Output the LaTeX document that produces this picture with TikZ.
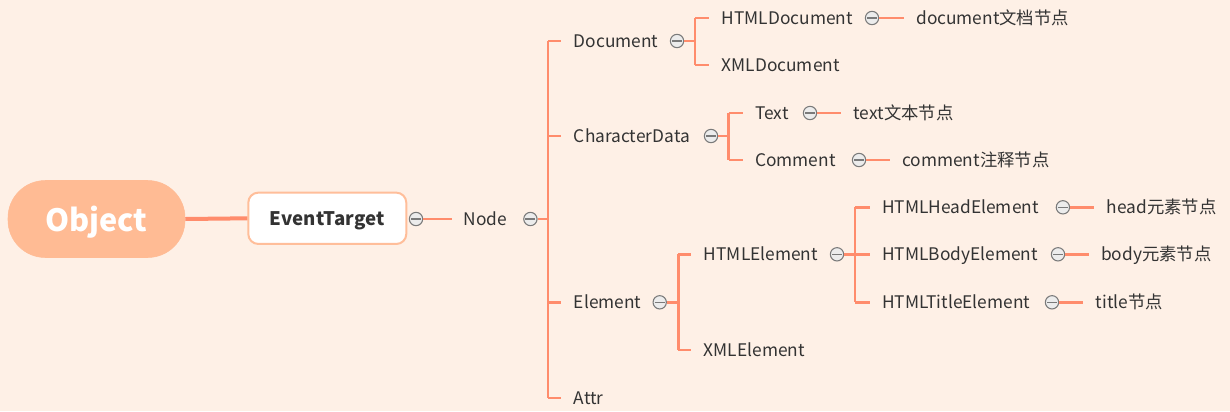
\documentclass[tikz,border=0pt]{standalone}
\usepackage{fontspec}
\setmainfont{Noto Sans CJK SC}
\usetikzlibrary{calc}
\definecolor{bg}{HTML}{FEF0E6}
\definecolor{objfill}{HTML}{FFBB94}
\definecolor{etborder}{HTML}{FFBE9A}
\definecolor{conn}{HTML}{FF8C6C}
\definecolor{txt}{HTML}{333333}
\definecolor{cgray}{HTML}{7A7A7A}
\begin{document}
\begin{tikzpicture}[x=0.75pt,y=-0.75pt,
  lbl/.style={anchor=west,inner sep=0pt,text=txt,font=\fontsize{13pt}{15pt}\selectfont,text height=0.94em,text depth=0pt},
  coll/.style={circle,draw=cgray,line width=0.8pt,fill=white!85!gray,inner sep=0pt,minimum size=10pt,
    path picture={\draw[cgray,line width=0.9pt] ($(path picture bounding box.center)+(-5,0)$) -- ($(path picture bounding box.center)+(5,0)$);}},
  link/.style={draw=conn,line width=2.2pt},
]
\useasboundingbox[fill=bg] (0,0) rectangle (1230,411);

% root nodes
\node[fill=objfill,draw=objfill,rounded corners=28pt,minimum width=132.75pt,minimum height=57.75pt,inner sep=0pt,
      text=white,font=\bfseries\fontsize{23pt}{26pt}\selectfont,text depth=0pt] (obj) at (96.5,219) {Object};
\node[fill=white,draw=etborder,line width=1.5pt,rounded corners=7.5pt,minimum width=118.5pt,minimum height=38.5pt,inner sep=0pt,
      text=txt,font=\bfseries\fontsize{14pt}{16pt}\selectfont,text depth=0pt] (et) at (327.3,218.3) {EventTarget};
\draw[link,line width=3pt] (obj.east) -- (et.west);

\node[coll] (cet) at (416,219) {};
\node[lbl] (node) at (463.6,219) {Node};
\node[coll] (cnode) at (530.4,219) {};
\draw[link] (cet.east) -- ($(node.west)+(-12,0)$);

% level: children of Node
\coordinate (jn) at (548,219);
\node[lbl] (doc) at (573.7,41) {Document};
\node[lbl] (cd) at (573.7,136) {CharacterData};
\node[lbl] (el) at (573.7,302.3) {Element};
\node[lbl] (attr) at (573.7,398) {Attr};
\draw[link] (cnode.east) -- (jn);
\draw[link] (jn |- doc.west) -- (jn |- attr.west);
\foreach \c in {doc,cd,el,attr} \draw[link] (jn |- \c.west) -- ($(\c.west)+(-12.5,0)$);

% Document
\node[coll] (cdoc) at (677,41) {};
\coordinate (jdoc) at (695,41);
\node[lbl] (hd) at (721.5,18) {HTMLDocument};
\node[lbl] (xd) at (721.5,65) {XMLDocument};
\draw[link] (cdoc.east) -- (jdoc);
\draw[link] (jdoc |- hd.west) -- (jdoc |- xd.west);
\foreach \c in {hd,xd} \draw[link] (jdoc |- \c.west) -- ($(\c.west)+(-12.5,0)$);
\node[coll] (chd) at (872,18) {};
\node[lbl] (hdt) at (916,18) {document文档节点};
\draw[link] (chd.east) -- ($(hdt.west)+(-12.5,0)$);

% CharacterData
\node[coll] (ccd) at (711,136) {};
\coordinate (jcd) at (728.7,136);
\node[lbl] (tx) at (755,113) {Text};
\node[lbl] (cm) at (755,160) {Comment};
\draw[link] (ccd.east) -- (jcd);
\draw[link] (jcd |- tx.west) -- (jcd |- cm.west);
\foreach \c in {tx,cm} \draw[link] (jcd |- \c.west) -- ($(\c.west)+(-12.5,0)$);
\node[coll] (ctx) at (810,113) {};
\node[lbl] (txt2) at (853.4,113) {text文本节点};
\draw[link] (ctx.east) -- ($(txt2.west)+(-12.5,0)$);
\node[coll] (ccm) at (859,160) {};
\node[lbl] (cmt) at (902,160) {comment注释节点};
\draw[link] (ccm.east) -- ($(cmt.west)+(-12.5,0)$);

% Element
\node[coll] (cel) at (659.7,302.3) {};
\coordinate (jel) at (678.2,302.3);
\node[lbl] (he) at (703.7,254.3) {HTMLElement};
\node[lbl] (xe) at (703.7,350) {XMLElement};
\draw[link] (cel.east) -- (jel);
\draw[link] (jel |- he.west) -- (jel |- xe.west);
\foreach \c in {he,xe} \draw[link] (jel |- \c.west) -- ($(\c.west)+(-12.5,0)$);

% HTMLElement
\node[coll] (che) at (837,254.3) {};
\coordinate (jhe) at (855,254.3);
\node[lbl] (hh) at (882,207.3) {HTMLHeadElement};
\node[lbl] (hb) at (882,254.3) {HTMLBodyElement};
\node[lbl] (ht) at (882,302.3) {HTMLTitleElement};
\draw[link] (che.east) -- (jhe);
\draw[link] (jhe |- hh.west) -- (jhe |- ht.west);
\foreach \c in {hh,hb,ht} \draw[link] (jhe |- \c.west) -- ($(\c.west)+(-12.5,0)$);

\node[coll] (chh) at (1062.9,207.3) {};
\node[lbl] (hht) at (1106.5,207.3) {head元素节点};
\draw[link] (chh.east) -- ($(hht.west)+(-12.5,0)$);
\node[coll] (chb) at (1058,254.3) {};
\node[lbl] (hbt) at (1101,254.3) {body元素节点};
\draw[link] (chb.east) -- ($(hbt.west)+(-12.5,0)$);
\node[coll] (cht) at (1052,302.3) {};
\node[lbl] (htt) at (1095.5,302.3) {title节点};
\draw[link] (cht.east) -- ($(htt.west)+(-12.5,0)$);
\end{tikzpicture}
\end{document}
